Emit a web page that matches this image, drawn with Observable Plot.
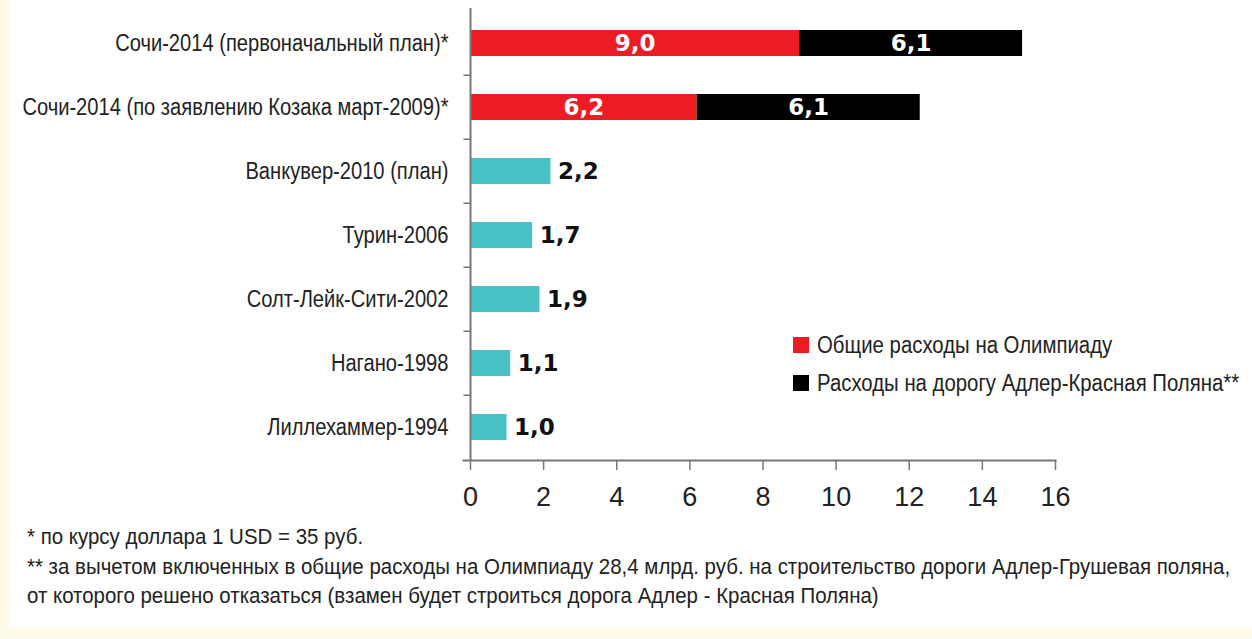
<!DOCTYPE html>
<html>
<head>
<meta charset="utf-8">
<script src="https://cdn.jsdelivr.net/npm/d3@7"></script>
<script src="https://cdn.jsdelivr.net/npm/@observablehq/plot@0.6"></script>
<style>
  html, body { margin: 0; padding: 0; background: #fffbea; }
  #panel { position: absolute; left: 10px; top: 0; width: 1242px; height: 627px; background: #ffffff; }
  #chart { position: absolute; left: 0; top: 0; }
  .narrow { font-family: "Liberation Sans", Arial, sans-serif; color: #222; white-space: nowrap; }
  #legend { position: absolute; left: 793px; top: 330px; font-size: 23px; }
  #legend .row { display: flex; align-items: center; height: 30px; margin-bottom: 8px; }
  #legend .sw { width: 16px; height: 16px; margin-right: 8px; flex: none; }
  #legend span { display: inline-block; transform: scaleX(0.885); transform-origin: left center; }
  #notes { position: absolute; left: 27px; top: 522px; font-size: 22px; line-height: 29.5px; }
  #notes div { transform: scaleX(0.93); transform-origin: left center; }
</style>
</head>
<body>
<div id="panel"></div>
<div id="chart"></div>
<div id="legend" class="narrow"></div>
<div id="notes" class="narrow"></div>
<script>
const categories = [
  "Сочи-2014 (первоначальный план)*",
  "Сочи-2014 (по заявлению Козака март-2009)*",
  "Ванкувер-2010 (план)",
  "Турин-2006",
  "Солт-Лейк-Сити-2002",
  "Нагано-1998",
  "Лиллехаммер-1994"
];
const olympicCosts = [9.0, 6.2, 2.2, 1.7, 1.9, 1.1, 1.0];
const roadCosts = [6.1, 6.1, null, null, null, null, null];
const seriesNames = ["Общие расходы на Олимпиаду", "Расходы на дорогу Адлер-Красная Поляна**", "Прошлые Олимпиады"];
const xTicks = [0, 2, 4, 6, 8, 10, 12, 14, 16];
const footnotes = [
  "* по курсу доллара 1 USD = 35 руб.",
  "** за вычетом включенных в общие расходы на Олимпиаду 28,4 млрд. руб. на строительство дороги Адлер-Грушевая поляна,",
  "от которого решено отказаться (взамен будет строиться дорога Адлер - Красная Поляна)"
];

const colors = ["#ed1c24", "#000000", "#48c1c4"];

const rows = [];
categories.forEach((c, i) => {
  if (roadCosts[i] != null) {
    rows.push({cat: c, series: seriesNames[0], value: olympicCosts[i], inside: true});
    rows.push({cat: c, series: seriesNames[1], value: roadCosts[i], inside: true});
  } else {
    rows.push({cat: c, series: seriesNames[2], value: olympicCosts[i], inside: false});
  }
});
const fmt = v => v.toFixed(1).replace(".", ",");
const insideRows = rows.filter(d => d.inside);
const outsideRows = rows.filter(d => !d.inside);

const W = 1252, H = 520;
const step = (460 - 9) / categories.length;

const chart = Plot.plot({
  width: W,
  height: H,
  marginLeft: 470,
  marginRight: 197,
  marginTop: 9,
  marginBottom: H - 460,
  style: {background: "transparent", overflow: "visible"},
  x: {domain: [0, 16], ticks: xTicks},
  y: {domain: categories, paddingOuter: 0.3, paddingInner: 0.6},
  color: {domain: seriesNames, range: colors},
  marks: [
    Plot.barX(rows, Plot.stackX({x: "value", y: "cat", fill: "series", order: seriesNames})),
    Plot.text(insideRows, Plot.stackX({x: "value", y: "cat", z: "series", order: seriesNames,
      text: d => fmt(d.value), fill: "white", fontWeight: "bold", fontSize: 23,
      fontFamily: "DejaVu Sans", letterSpacing: 1.5})),
    Plot.text(outsideRows, {x: "value", y: "cat", text: d => fmt(d.value), dx: 7,
      textAnchor: "start", fill: "#111", fontWeight: "bold", fontSize: 23,
      fontFamily: "DejaVu Sans", letterSpacing: 1.5}),
    Plot.ruleX([0], {stroke: "#777", strokeWidth: 2, insetTop: -1}),
    Plot.ruleY(categories.slice(1), {y: d => d, x1: -0.18, x2: 0, dy: -step / 2, stroke: "#777", strokeWidth: 1.5}),
    Plot.axisY({tickSize: 0, tickPadding: 22, fontSize: 23, fontFamily: "Liberation Sans, Arial, sans-serif", fill: "#222", label: null}),
    Plot.frame({anchor: "bottom", stroke: "#777", strokeWidth: 2, insetLeft: -7}),
    Plot.axisX({ticks: xTicks, tickSize: 10, tickPadding: 16, fontSize: 27, fontFamily: "Liberation Sans, Arial, sans-serif", fill: "#222", stroke: "#777", strokeWidth: 1.5, label: null})
  ]
});
// condense the category labels horizontally (narrow typeface look)
chart.querySelectorAll('g[aria-label="y-axis tick label"] text').forEach(t => {
  const tr = t.getAttribute("transform") || "";
  t.setAttribute("transform", tr + " scale(0.875,1)");
});
document.getElementById("chart").appendChild(chart);

const legend = document.getElementById("legend");
seriesNames.slice(0, 2).forEach((n, i) => {
  const row = document.createElement("div");
  row.className = "row";
  const sw = document.createElement("div");
  sw.className = "sw";
  sw.style.background = colors[i];
  const t = document.createElement("span");
  t.textContent = n;
  row.appendChild(sw);
  row.appendChild(t);
  legend.appendChild(row);
});
const notes = document.getElementById("notes");
footnotes.forEach(f => {
  const d = document.createElement("div");
  d.textContent = f;
  notes.appendChild(d);
});
</script>
</body>
</html>
